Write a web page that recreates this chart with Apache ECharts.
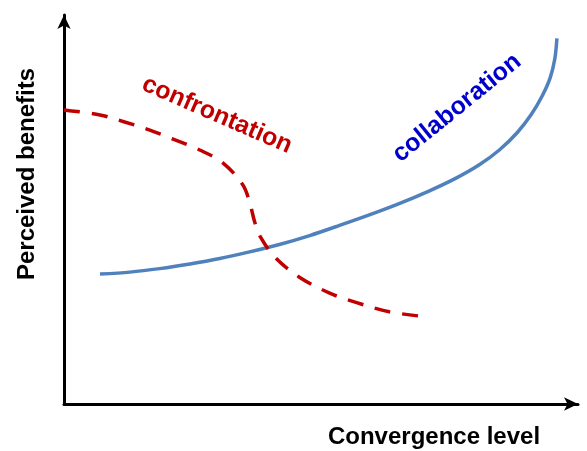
<!DOCTYPE html>
<html>
<head>
<meta charset="utf-8">
<title>Perceived benefits vs convergence level</title>
<script src="https://cdn.jsdelivr.net/npm/echarts@6/dist/echarts.min.js"></script>
<style>
  html, body { margin: 0; padding: 0; background: #ffffff; }
  #chart { width: 587px; height: 451px; }
</style>
</head>
<body>
<div id="chart"></div>
<script>
// curve points: [convergence level, perceived benefits]
var collaboration = [
  [7.0, 33.4], [12.8, 33.9], [18.6, 34.8], [24.5, 36.0], [30.3, 37.4],
  [36.1, 39.1], [41.9, 41.0], [47.8, 43.3], [53.6, 45.9], [59.4, 48.6],
  [65.2, 51.5], [71.1, 54.8], [75.9, 57.8], [80.8, 61.5], [84.7, 65.3],
  [88.2, 69.8], [90.9, 74.4], [93.0, 79.1], [94.6, 83.9], [95.5, 88.8],
  [95.9, 94.0]
];
var confrontation = [
  [0, 75.6], [7.0, 74.3], [11.8, 72.5], [16.7, 70.4], [21.6, 67.9],
  [26.4, 65.3], [30.9, 62.0], [34.8, 56.3], [36.1, 51.9], [37.1, 46.8],
  [38.1, 43.2], [41.0, 37.8], [45.8, 32.6], [51.7, 28.5], [57.1, 26.0],
  [63.3, 23.7], [70.7, 22.4]
];
var seriesNames = ['collaboration', 'confrontation'];
var axisTitles = ['Convergence level', 'Perceived benefits'];

var font = 'Arial, "Liberation Sans", sans-serif';

// axis with arrow, no ticks / labels
function bareAxis() {
  return {
    type: 'value',
    min: 0,
    max: 100,
    axisLine: {
      show: true,
      symbol: ['none', 'arrow'],
      symbolSize: [10, 14],
      lineStyle: { color: '#000', width: 3 }
    },
    axisTick: { show: false },
    axisLabel: { show: false },
    splitLine: { show: false }
  };
}

var chart = echarts.init(document.getElementById('chart'));
chart.setOption({
  animation: false,
  grid: { left: 64, right: 9, top: 15, bottom: 47 },
  xAxis: bareAxis(),
  yAxis: bareAxis(),
  series: [
    {
      name: seriesNames[0],
      type: 'line',
      data: collaboration,
      smooth: 0.3,
      showSymbol: false,
      lineStyle: { color: '#4F81BD', width: 3.5 }
    },
    {
      name: seriesNames[1],
      type: 'line',
      data: confrontation,
      smooth: 0.35,
      showSymbol: false,
      lineStyle: { color: '#C00000', width: 3.5, type: [16, 12] }
    }
  ],
  graphic: [
    {
      type: 'text', x: 434, y: 437,
      style: { text: axisTitles[0], font: 'bold 24px ' + font, fill: '#000', align: 'center', verticalAlign: 'middle' }
    },
    {
      type: 'text', x: 27, y: 174, rotation: Math.PI / 2,
      style: { text: axisTitles[1], font: 'bold 24px ' + font, fill: '#000', align: 'center', verticalAlign: 'middle' }
    },
    {
      type: 'text', x: 217, y: 115, rotation: -0.41,
      style: { text: seriesNames[1], font: 'bold 25px ' + font, fill: '#C00000', align: 'center', verticalAlign: 'middle' }
    },
    {
      type: 'text', x: 457, y: 108, rotation: 0.68,
      style: { text: seriesNames[0], font: 'bold 25px ' + font, fill: '#0000CC', align: 'center', verticalAlign: 'middle' }
    }
  ]
});
</script>
</body>
</html>
